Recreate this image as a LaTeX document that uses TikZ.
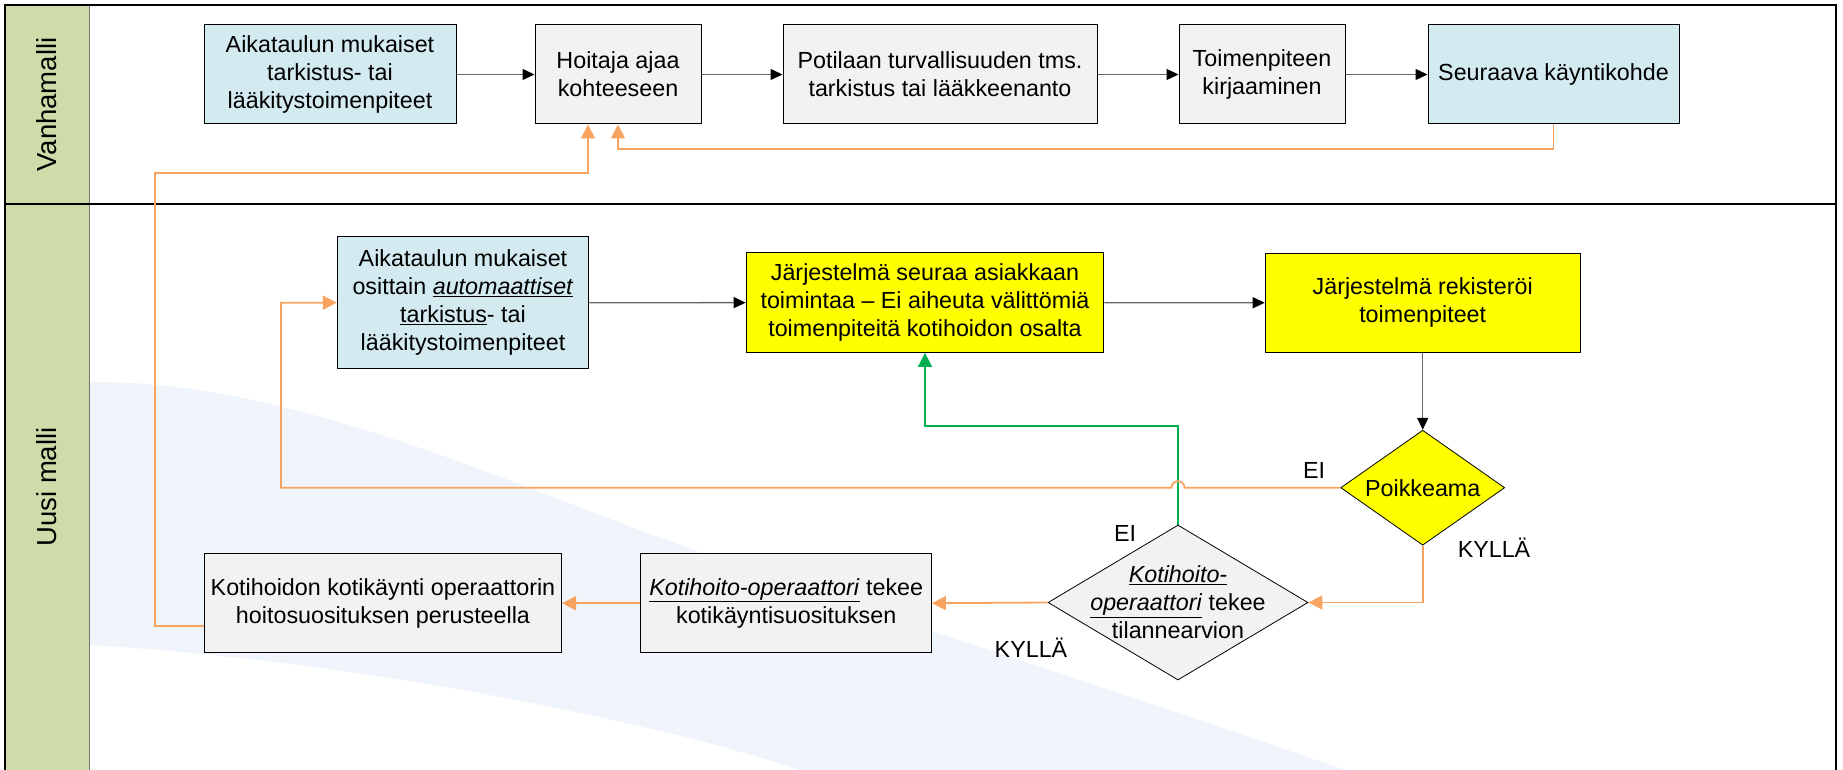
\documentclass[tikz,border=0pt]{standalone}
\usepackage{fontspec}
\setmainfont{Liberation Sans}
\usetikzlibrary{arrows.meta,shapes.geometric}
\definecolor{lanegreen}{RGB}{205,220,168}
\definecolor{boxblue}{RGB}{210,234,240}
\definecolor{boxgrey}{RGB}{242,242,242}
\definecolor{boxyellow}{RGB}{255,255,0}
\definecolor{lineorange}{RGB}{248,164,96}
\definecolor{linegreen}{RGB}{0,176,80}
\definecolor{wmblue}{RGB}{240,245,251}
\begin{document}
\begin{tikzpicture}[x=1pt,y=-1pt,
  every node/.style={font=\fontsize{23.3}{28}\selectfont, align=center, inner sep=0pt},
  proc/.style={draw=black, line width=1pt, minimum height=99pt},
  bluebox/.style={proc, fill=boxblue},
  greybox/.style={proc, fill=boxgrey},
  yellowbox/.style={proc, fill=boxyellow},
  decision/.style={diamond, draw=black, line width=0.8pt},
  lanelabel/.style={rotate=90, font=\fontsize{27.5}{33}\selectfont},
  blk/.style={draw=black!60, line width=1.3pt, -{Triangle[length=12pt,width=11pt,color=black]}},
  oline/.style={draw=lineorange, line width=1.8pt, -{Triangle[length=14pt,width=14pt]}},
  gline/.style={draw=linegreen, line width=1.8pt, -{Triangle[length=14pt,width=14pt]}},
  tag/.style={anchor=base}
]
\useasboundingbox (0,0) rectangle (1843,770);
\clip (0,0) rectangle (1843,770);

% watermark swoosh
\fill[wmblue] (89,382) .. controls (250,380) and (420,445) .. (600,515)
  .. controls (800,592) and (1060,670) .. (1345,770) -- (800,770)
  .. controls (650,720) and (350,660) .. (89,645) -- cycle;

% lanes
\fill[lanegreen] (5,5) rectangle (89,770);
\draw[black!55, line width=1pt] (89,5) -- (89,770);
\draw[line width=1.5pt] (5,775) -- (5,5) -- (1836,5) -- (1836,775);
\draw[line width=1.5pt] (5,204) -- (1836,204);
\node[lanelabel] (lv) at (47,104.5) {Vanhamalli};
\node[lanelabel] (lu) at (47,487) {Uusi malli};

% old model
\node[bluebox, minimum width=252pt] (B1) at (330,74.5) {Aikataulun mukaiset\\tarkistus- tai\\lääkitystoimenpiteet};
\node[greybox, minimum width=166pt] (B2) at (618,74.5) {Hoitaja ajaa\\kohteeseen};
\node[greybox, minimum width=314pt] (B3) at (940,74.5) {Potilaan turvallisuuden tms.\\tarkistus tai lääkkeenanto};
\node[greybox, minimum width=166pt] (B4) at (1262,74.5) {Toimenpiteen\\kirjaaminen};
\node[bluebox, minimum width=251pt] (B5) at (1553.5,74.5) {Seuraava käyntikohde};

% new model
\node[bluebox, minimum width=251.5pt, minimum height=132pt] (U1) at (463,302.7) {Aikataulun mukaiset\\osittain \underline{\textit{automaattiset}}\\\underline{tarkistus}- tai\\lääkitystoimenpiteet};
\node[yellowbox, minimum width=357.6pt, minimum height=99.6pt] (U2) at (925,302.6) {Järjestelmä seuraa asiakkaan\\toimintaa – Ei aiheuta välittömiä\\toimenpiteitä kotihoidon osalta};
\node[yellowbox, minimum width=315pt] (U3) at (1422.7,302.8) {Järjestelmä rekisteröi\\toimenpiteet};
\node[decision, fill=boxyellow, minimum width=164pt, minimum height=115pt] (P) at (1422.7,487.7) {};
\node (Pt) at (P) {Poikkeama};
\node[decision, fill=boxgrey, minimum width=260pt, minimum height=155pt] (K) at (1178,602.5) {};
\node (Kt) at (K) {\underline{\textit{Kotihoito-}}\\\underline{\textit{operaattori}} tekee\\tilannearvion};
\node[greybox, minimum width=290.5pt] (KB) at (786.2,603.2) {\underline{\textit{Kotihoito-operaattori}} tekee\\kotikäyntisuosituksen};
\node[greybox, minimum width=357pt] (KK) at (383,603.2) {Kotihoidon kotikäynti operaattorin\\hoitosuosituksen perusteella};

% labels
\node[tag] (ei1) at (1314,478) {EI};
\node[tag] (ky1) at (1494,557) {KYLLÄ};
\node[tag] (ei2) at (1125,541) {EI};
\node[tag] (ky2) at (1031,657) {KYLLÄ};

% old model connectors
\draw[blk] (B1) -- (B2);
\draw[blk] (B2) -- (B3);
\draw[blk] (B3) -- (B4);
\draw[blk] (B4) -- (B5);
\draw[oline] (B5.south) -- ++(0,24.5) -| (B2.south);

% new model connectors
\draw[blk] (U1) -- (U2);
\draw[blk] (U2) -- (U3);
\draw[blk] (U3.south) -- (P.north);
\draw[gline] (K.north) -- ++(0,-98.6) -| (U2.south);
\draw[oline] (P.west) -- (1184.5,487.7) arc[start angle=0, end angle=180, radius=6.5pt] -- (281,487.7) |- (U1.west);
\draw[oline] (P.south) |- (K.east);
\draw[oline] (K.west) -- (KB.east);
\draw[oline] (KB.west) -- (KK.east);
\draw[oline] ([yshift=-22.5pt]KK.west) -| (155,173) -| ([xshift=-30pt]B2.south);
\end{tikzpicture}
\end{document}
